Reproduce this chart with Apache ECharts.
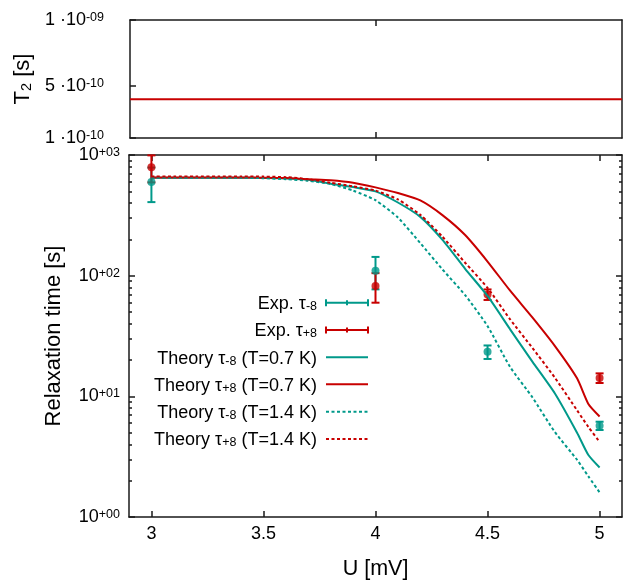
<!DOCTYPE html>
<html><head><meta charset="utf-8">
<script src="https://cdn.jsdelivr.net/npm/echarts@6/dist/echarts.min.js"></script>
<style>html,body{margin:0;padding:0;background:#fff}#c{width:628px;height:585px}</style>
</head><body><div id="c"></div>
<script>
// ---------------- data ----------------
const voltage      = [3.0, 3.1, 3.2, 3.3, 3.4, 3.5, 3.6, 3.7, 3.8, 3.9, 4.0, 4.1, 4.2, 4.3, 4.4, 4.5, 4.6, 4.7, 4.8, 4.9, 4.95, 5.0];
const tauMinus07   = [648, 648, 648, 648, 648, 644, 639, 624, 578, 542, 500, 404, 307, 197, 114, 67.9, 36.1, 19.4, 10.6, 4.97, 3.26, 2.57];
const tauPlus07    = [652, 652, 652, 652, 651, 649, 645, 630, 618, 590, 539, 484, 420, 316, 217, 131, 75.4, 45.1, 26.2, 14.05, 8.65, 6.81];
const tauMinus14   = [648, 648, 648, 648, 648, 642, 630, 612, 575, 507, 422, 303, 186, 112, 69.0, 38.2, 17.6, 9.82, 5.07, 2.97, 2.17, 1.60];
const tauPlus14    = [665, 665, 665, 665, 664, 662, 655, 630, 589, 550, 507, 428, 319, 209, 128, 79.3, 43.6, 25.2, 14.3, 7.63, 5.57, 4.20];

const expVoltage     = [3.0, 4.0, 4.5, 5.0];
const expTauMinus    = [597, 110, 23.4, 5.71];
const expTauMinusErr = [190, 33, 3.0, 0.45];
const expTauPlus     = [793, 82.3, 69.9, 14.2];
const expTauPlusErr  = [200, 22.6, 7.0, 1.3];

const t2Voltage = [2.9, 5.1];
const t2Values  = [3.96e-10, 3.96e-10];

const xTicks      = [3, 3.5, 4, 4.5, 5];
const t2XTicks    = [4];
const yMajorTicks = [1, 10, 100, 1000];
const yMinorTicks = [2,3,4,5,6,7,8,9,20,30,40,50,60,70,80,90,200,300,400,500,600,700,800,900];
const t2Ticks     = [1e-10, 5e-10, 1e-9];

const legendLabels = [
  ['Exp. τ', '-8', ''],
  ['Exp. τ', '+8', ''],
  ['Theory τ', '-8', ' (T=0.7 K)'],
  ['Theory τ', '+8', ' (T=0.7 K)'],
  ['Theory τ', '-8', ' (T=1.4 K)'],
  ['Theory τ', '+8', ' (T=1.4 K)']
];

// ---------------- style ----------------
const TEAL = '#00998a';
const RED = '#c80000';
const AX = '#1a1a1a';
const FONT = 'Liberation Sans, Arial, sans-serif';
const DASH = [3, 2.5];

const zip = (a, b) => a.map((v, i) => [v, b[i]]);

const supRich = {
  b: {fontSize: 18, fontFamily: FONT, color: '#000', lineHeight: 18, verticalAlign: 'bottom'},
  sup: {fontSize: 12.5, fontFamily: FONT, color: '#000', lineHeight: 12.5, verticalAlign: 'top', padding: [0, 0, 10, 0]}
};

function pad2(n) { return (n < 10 ? '0' : '') + n; }
function logLabel(v) {
  const e = Math.round(Math.log10(v));
  return '{b|10}{sup|' + (e < 0 ? '-' : '+') + pad2(Math.abs(e)) + '}';
}
function sciLabel(v) {
  const e = Math.floor(Math.log10(v) + 1e-9);
  const m = Math.round(v / Math.pow(10, e));
  return '{b|' + m + ' ·10}{sup|' + (e < 0 ? '-' : '+') + pad2(Math.abs(e)) + '}';
}

const axLine = {show: true, lineStyle: {color: AX, width: 1.5}};
const tickStyle = {color: AX, width: 1.5};

function xAx(grid, pos, ticks, labels, extra) {
  return Object.assign({
    type: 'value', gridIndex: grid, position: pos, min: 2.9, max: 5.1,
    axisLine: Object.assign({onZero: false}, axLine),
    axisTick: {show: true, inside: true, length: 6, lineStyle: tickStyle, customValues: ticks},
    axisLabel: labels ? {show: true, customValues: ticks, margin: 8, fontSize: 18, fontFamily: FONT, color: '#000'} : {show: false},
    splitLine: {show: false}
  }, extra || {});
}
function logAx(pos, ticks, len, withLine, labels, extra) {
  return Object.assign({
    type: 'log', logBase: 10, gridIndex: 1, position: pos, min: 1, max: 1000,
    axisLine: withLine ? Object.assign({onZero: false}, axLine) : {show: false},
    axisTick: {show: true, inside: true, length: len, lineStyle: tickStyle, customValues: ticks},
    axisLabel: labels ? {show: true, customValues: ticks, margin: 9, formatter: logLabel, rich: supRich} : {show: false},
    splitLine: {show: false}, minorTick: {show: false}
  }, extra || {});
}

function errSeries(name, vals, errs, color) {
  return {
    name: name, type: 'custom', xAxisIndex: 2, yAxisIndex: 2,
    data: expVoltage.map((u, i) => [u, vals[i] - errs[i], vals[i] + errs[i]]),
    encode: {x: 0, y: [1, 2]},
    renderItem: function (params, api) {
      const lo = api.coord([api.value(0), api.value(1)]);
      const hi = api.coord([api.value(0), api.value(2)]);
      const w = 4;
      const st = {stroke: color, lineWidth: 2};
      return {type: 'group', children: [
        {type: 'line', shape: {x1: lo[0], y1: lo[1], x2: hi[0], y2: hi[1]}, style: st},
        {type: 'line', shape: {x1: lo[0] - w, y1: lo[1], x2: lo[0] + w, y2: lo[1]}, style: st},
        {type: 'line', shape: {x1: hi[0] - w, y1: hi[1], x2: hi[0] + w, y2: hi[1]}, style: st}
      ]};
    }
  };
}
function ptSeries(name, vals, color) {
  return {name: name, type: 'scatter', xAxisIndex: 2, yAxisIndex: 2, data: zip(expVoltage, vals),
    symbol: 'circle', symbolSize: 8, itemStyle: {color: color}};
}
function theory(name, vals, color, dashed) {
  return {name: name, type: 'line', xAxisIndex: 2, yAxisIndex: 2, data: zip(voltage, vals),
    symbol: 'none', smooth: 0.2,
    lineStyle: {color: color, width: 2, type: dashed ? DASH : 'solid'}};
}

// ---------------- legend (drawn as graphic) ----------------
const legRows = [302.7, 330, 357.3, 384.3, 411.7, 439];
const legTextX = 317, legX1 = 326, legX2 = 368;
const legColors = [TEAL, RED, TEAL, RED, TEAL, RED];
const legRich = {
  n: {fontSize: 18, fontFamily: FONT, color: '#000', lineHeight: 18, verticalAlign: 'top'},
  s: {fontSize: 12.5, fontFamily: FONT, color: '#000', lineHeight: 12.5, verticalAlign: 'bottom', padding: [8, 0, 0, 0]}
};
const graphics = [];
legendLabels.forEach((lab, i) => {
  const y = legRows[i];
  let txt = '{n|' + lab[0] + '}{s|' + lab[1] + '}';
  if (lab[2]) txt += '{n|' + lab[2] + '}';
  graphics.push({type: 'text', x: legTextX, y: y + 1.5, style: {text: txt, rich: legRich, align: 'right', verticalAlign: 'middle'}});
  const st = {stroke: legColors[i], lineWidth: 2};
  if (i < 2) {
    const m = (legX1 + legX2) / 2;
    graphics.push({type: 'line', shape: {x1: legX1, y1: y, x2: legX2, y2: y}, style: st});
    graphics.push({type: 'line', shape: {x1: legX1, y1: y - 3.5, x2: legX1, y2: y + 3.5}, style: st});
    graphics.push({type: 'line', shape: {x1: legX2, y1: y - 3.5, x2: legX2, y2: y + 3.5}, style: st});
    graphics.push({type: 'line', shape: {x1: m, y1: y - 2.5, x2: m, y2: y + 2.5}, style: st});
  } else {
    const s2 = Object.assign({}, st);
    if (i >= 4) s2.lineDash = DASH;
    graphics.push({type: 'line', shape: {x1: legX1, y1: y, x2: legX2, y2: y}, style: s2});
  }
});

// ---------------- chart ----------------
const chart = echarts.init(document.getElementById('c'), null, {renderer: 'canvas'});
chart.setOption({
  backgroundColor: '#fff',
  animation: false,
  grid: [
    {left: 129, right: 6, top: 20, height: 118},
    {left: 129, right: 6, top: 155, height: 366}
  ],
  xAxis: [
    xAx(0, 'bottom', t2XTicks, false),
    xAx(0, 'top', t2XTicks, false),
    xAx(1, 'bottom', xTicks, true, {name: 'U [mV]', nameLocation: 'middle', nameGap: 41,
      nameTextStyle: {fontSize: 21.5, fontFamily: FONT, color: '#000'}}),
    xAx(1, 'top', xTicks, false)
  ],
  yAxis: [
    {type: 'value', gridIndex: 0, position: 'left', min: 1e-10, max: 1e-9,
      axisLine: Object.assign({onZero: false}, axLine),
      axisTick: {show: true, inside: true, length: 6, lineStyle: tickStyle, customValues: t2Ticks},
      axisLabel: {show: true, customValues: t2Ticks, margin: 26, formatter: sciLabel, rich: supRich},
      splitLine: {show: false},
      name: '{a|T}{s|2}{a| [s]}', nameLocation: 'middle', nameGap: 93,
      nameTextStyle: {rich: {
        a: {fontSize: 22, fontFamily: FONT, color: '#000', lineHeight: 22, verticalAlign: 'top'},
        s: {fontSize: 14.5, fontFamily: FONT, color: '#000', lineHeight: 14.5, verticalAlign: 'bottom', padding: [11, 0, 0, 0]}
      }}},
    {type: 'value', gridIndex: 0, position: 'right', min: 1e-10, max: 1e-9,
      axisLine: Object.assign({onZero: false}, axLine), axisTick: {show: false}, axisLabel: {show: false}, splitLine: {show: false}},
    logAx('left', yMajorTicks, 6, true, true, {name: 'Relaxation time [s]', nameLocation: 'middle', nameGap: 64,
      nameTextStyle: {fontSize: 22, fontFamily: FONT, color: '#000'}}),
    logAx('left', yMinorTicks, 3, false, false),
    logAx('right', yMajorTicks, 6, true, false),
    logAx('right', yMinorTicks, 3, false, false)
  ],
  series: [
    {name: 'T2', type: 'line', xAxisIndex: 0, yAxisIndex: 0, data: zip(t2Voltage, t2Values), symbol: 'none',
      lineStyle: {color: RED, width: 2}},
    errSeries('Exp. tau-8 err', expTauMinus, expTauMinusErr, TEAL),
    ptSeries('Exp. tau-8', expTauMinus, TEAL),
    errSeries('Exp. tau+8 err', expTauPlus, expTauPlusErr, RED),
    ptSeries('Exp. tau+8', expTauPlus, RED),
    theory('Theory tau-8 (T=0.7 K)', tauMinus07, TEAL, false),
    theory('Theory tau+8 (T=0.7 K)', tauPlus07, RED, false),
    theory('Theory tau-8 (T=1.4 K)', tauMinus14, TEAL, true),
    theory('Theory tau+8 (T=1.4 K)', tauPlus14, RED, true)
  ],
  graphic: graphics
});
</script>
</body></html>
